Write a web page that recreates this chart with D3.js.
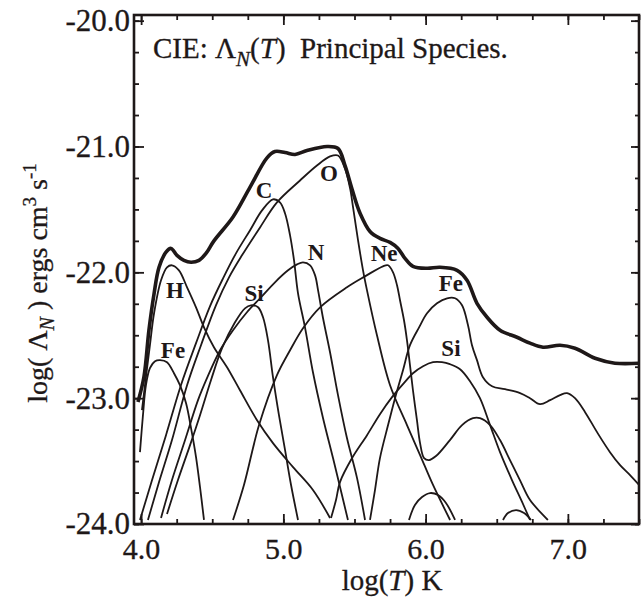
<!DOCTYPE html>
<html><head><meta charset="utf-8">
<script src="https://cdn.jsdelivr.net/npm/d3@7"></script>
<style>body{margin:0;background:#fff}svg{display:block}</style>
</head><body>
<script>
// ---- data: [log T, log Lambda_N] ----
const xTickLabels = [4.0, 5.0, 6.0, 7.0];
const yTickLabels = [-24.0, -23.0, -22.0, -21.0, -20.0];

const total = [[3.978,-23.03],[4.020,-22.83],[4.055,-22.46],[4.091,-22.17],[4.126,-21.96],[4.175,-21.84],[4.210,-21.81],[4.252,-21.865],[4.301,-21.905],[4.351,-21.92],[4.407,-21.905],[4.456,-21.85],[4.512,-21.75],[4.646,-21.56],[4.765,-21.325],[4.885,-21.09],[4.941,-21.04],[5.012,-21.048],[5.082,-21.063],[5.166,-21.032],[5.307,-21.0],[5.384,-21.016],[5.433,-21.15],[5.483,-21.34],[5.539,-21.53],[5.609,-21.675],[5.679,-21.73],[5.750,-21.762],[5.806,-21.81],[5.855,-21.889],[5.911,-21.952],[6.010,-21.968],[6.101,-21.96],[6.221,-21.984],[6.291,-22.063],[6.361,-22.246],[6.432,-22.357],[6.523,-22.46],[6.642,-22.516],[6.734,-22.563],[6.825,-22.595],[6.945,-22.579],[7.050,-22.603],[7.191,-22.683],[7.331,-22.722],[7.507,-22.722]];
const hydrogen = [[4.006,-23.095],[4.034,-22.833],[4.062,-22.579],[4.091,-22.325],[4.140,-22.063],[4.182,-21.96],[4.217,-21.944],[4.266,-21.984],[4.323,-22.119],[4.386,-22.278],[4.442,-22.437],[4.512,-22.595],[4.604,-22.754],[4.695,-22.937],[4.815,-23.175],[4.927,-23.357],[5.068,-23.548],[5.208,-23.73],[5.328,-23.952]];
const ironLow = [[3.992,-23.429],[4.013,-23.135],[4.034,-22.897],[4.062,-22.762],[4.098,-22.706],[4.133,-22.698],[4.182,-22.714],[4.231,-22.802],[4.273,-22.897],[4.316,-23.04],[4.351,-23.238],[4.386,-23.468],[4.414,-23.706],[4.442,-23.968]];
const carbon = [[3.992,-23.968],[4.077,-23.651],[4.175,-23.294],[4.280,-22.897],[4.386,-22.563],[4.484,-22.27],[4.576,-22.048],[4.667,-21.849],[4.765,-21.667],[4.850,-21.508],[4.927,-21.42],[4.976,-21.444],[5.012,-21.532],[5.047,-21.706],[5.075,-21.905],[5.103,-22.167],[5.152,-22.437],[5.208,-22.794],[5.279,-23.159],[5.349,-23.476],[5.454,-23.968]];
const oxygen = [[4.048,-23.968],[4.126,-23.667],[4.217,-23.333],[4.323,-22.897],[4.421,-22.579],[4.526,-22.262],[4.618,-22.04],[4.709,-21.865],[4.836,-21.643],[4.955,-21.444],[5.117,-21.27],[5.236,-21.151],[5.328,-21.079],[5.384,-21.071],[5.433,-21.175],[5.469,-21.333],[5.490,-21.484],[5.525,-21.746],[5.560,-21.984],[5.588,-22.143],[5.658,-22.5],[5.750,-22.897],[5.869,-23.214],[5.961,-23.452],[6.052,-23.69],[6.172,-23.968]];
const nitrogen = [[4.140,-23.952],[4.217,-23.651],[4.309,-23.333],[4.400,-23.016],[4.463,-22.841],[4.555,-22.619],[4.646,-22.46],[4.744,-22.317],[4.843,-22.198],[4.941,-22.079],[5.033,-21.984],[5.096,-21.937],[5.138,-21.921],[5.188,-21.944],[5.223,-22.024],[5.244,-22.143],[5.279,-22.365],[5.328,-22.635],[5.384,-22.976],[5.447,-23.317],[5.518,-23.635],[5.574,-23.968]];
const siliconLow = [[4.182,-23.921],[4.259,-23.651],[4.344,-23.373],[4.414,-23.135],[4.491,-22.857],[4.569,-22.603],[4.660,-22.397],[4.730,-22.286],[4.772,-22.262],[4.822,-22.278],[4.857,-22.357],[4.892,-22.54],[4.927,-22.833],[4.969,-23.135],[5.012,-23.413],[5.054,-23.69],[5.103,-23.968]];
const neon = [[4.646,-23.968],[4.723,-23.69],[4.829,-23.214],[4.955,-22.817],[5.047,-22.619],[5.138,-22.444],[5.258,-22.278],[5.447,-22.119],[5.574,-22.032],[5.700,-21.952],[5.736,-21.944],[5.771,-22.0],[5.799,-22.103],[5.820,-22.222],[5.848,-22.381],[5.869,-22.54],[5.890,-22.738],[5.911,-22.937],[5.939,-23.175],[5.961,-23.357],[5.989,-23.476],[6.024,-23.492],[6.073,-23.46],[6.171,-23.333],[6.256,-23.214],[6.333,-23.159],[6.382,-23.159],[6.453,-23.214],[6.523,-23.333],[6.593,-23.492],[6.663,-23.651],[6.734,-23.81],[6.860,-23.968]];
const siliconHigh = [[5.335,-23.952],[5.370,-23.81],[5.398,-23.667],[5.483,-23.476],[5.588,-23.294],[5.679,-23.127],[5.764,-22.992],[5.841,-22.889],[5.911,-22.802],[5.982,-22.746],[6.052,-22.714],[6.115,-22.714],[6.171,-22.73],[6.242,-22.77],[6.312,-22.865],[6.382,-23.0],[6.453,-23.214],[6.523,-23.429],[6.607,-23.651],[6.678,-23.825],[6.734,-23.968]];
const ironHigh = [[5.609,-23.968],[5.644,-23.73],[5.679,-23.476],[5.736,-23.214],[5.785,-23.0],[5.841,-22.778],[5.890,-22.579],[5.954,-22.437],[6.010,-22.325],[6.080,-22.246],[6.151,-22.206],[6.207,-22.206],[6.256,-22.262],[6.298,-22.421],[6.326,-22.579],[6.361,-22.698],[6.403,-22.833],[6.467,-22.905],[6.558,-22.929],[6.664,-22.96],[6.734,-23.0],[6.804,-23.048],[6.875,-23.016],[6.945,-22.976],[6.994,-22.96],[7.050,-23.0],[7.121,-23.111],[7.205,-23.27],[7.296,-23.429],[7.367,-23.532],[7.437,-23.611],[7.514,-23.706]];
const minorA = [[5.883,-23.968],[5.925,-23.849],[5.975,-23.786],[6.031,-23.754],[6.087,-23.77],[6.143,-23.833],[6.207,-23.968]];
const minorB = [[6.544,-23.968],[6.579,-23.913],[6.636,-23.889],[6.692,-23.913],[6.741,-23.968]];

const speciesNames = ["H","Fe","Si","C","N","O","Ne","Fe","Si"];
const labelT = [4.238, 4.224, 4.794, 4.864, 5.229, 5.321, 5.708, 6.178, 6.178];
const labelL = [-22.143, -22.619, -22.167, -21.349, -21.841, -21.214, -21.849, -22.087, -22.603];

// ---- drawing ----
const W = 641, H = 599;
const ink = "#1e1818";
const serif = "'Liberation Serif','Times New Roman',serif";
const x = d3.scaleLinear().domain([3.95, 7.5]).range([134, 639]);
const y = d3.scaleLinear().domain([-24, -19.955]).range([524, 15]);

const svg = d3.select("body").append("svg").attr("width", W).attr("height", H)
  .style("font-family", serif);

svg.append("defs").append("clipPath").attr("id","clip")
  .append("rect").attr("x",134).attr("y",15).attr("width",505).attr("height",509);

const minorX = d3.range(4, 7.5001, 0.25);
const minorY = d3.range(-24, -19.999, 0.25);

function ticks(g, axis, vals, size) {
  g.call(axis.tickValues(vals).tickSize(size).tickFormat(""));
  g.select(".domain").remove();
  g.selectAll("line").attr("stroke", ink).attr("stroke-width", 1.8);
}
ticks(svg.append("g").attr("transform","translate(0,524)"), d3.axisBottom(x), minorX, -5);
ticks(svg.append("g").attr("transform","translate(0,524)"), d3.axisBottom(x), xTickLabels, -10);
ticks(svg.append("g").attr("transform","translate(0,15)"), d3.axisTop(x), minorX, -5);
ticks(svg.append("g").attr("transform","translate(0,15)"), d3.axisTop(x), xTickLabels, -10);
ticks(svg.append("g").attr("transform","translate(134,0)"), d3.axisLeft(y), minorY, -5);
ticks(svg.append("g").attr("transform","translate(134,0)"), d3.axisLeft(y), yTickLabels, -10);
ticks(svg.append("g").attr("transform","translate(639,0)"), d3.axisRight(y), minorY, -4);
ticks(svg.append("g").attr("transform","translate(639,0)"), d3.axisRight(y), yTickLabels, -8);

svg.append("rect").attr("x",134).attr("y",15).attr("width",505).attr("height",509)
  .attr("fill","none").attr("stroke",ink).attr("stroke-width",2.6);

function heavy(sel) { return sel.attr("stroke", ink).attr("stroke-width", 0.3).attr("fill", ink); }

// tick labels
const xl = svg.append("g").attr("transform","translate(0,524)")
  .call(d3.axisBottom(x).tickValues(xTickLabels).tickSize(0).tickPadding(14).tickFormat(d => d.toFixed(1)));
xl.select(".domain").remove();
heavy(xl.selectAll("text").attr("font-family", serif).attr("font-size", 30));

const yl = svg.append("g").attr("transform","translate(134,0)")
  .call(d3.axisLeft(y).tickValues(yTickLabels).tickSize(0).tickPadding(4).tickFormat(d => d.toFixed(1)));
yl.select(".domain").remove();
heavy(yl.selectAll("text").attr("font-family", serif).attr("font-size", 31));

// curves
const line = d3.line().x(d => x(d[0])).y(d => y(d[1])).curve(d3.curveCatmullRom.alpha(0.5));
const plot = svg.append("g").attr("clip-path","url(#clip)");
[hydrogen, ironLow, carbon, oxygen, nitrogen, siliconLow, neon, siliconHigh, ironHigh, minorA, minorB]
  .forEach(s => plot.append("path").attr("d", line(s)).attr("fill","none")
    .attr("stroke", ink).attr("stroke-width", 1.8).attr("stroke-linejoin","round"));
plot.append("path").attr("d", line(total)).attr("fill","none")
  .attr("stroke", ink).attr("stroke-width", 3.6).attr("stroke-linejoin","round");

// species labels
speciesNames.forEach((n, i) => {
  svg.append("text").attr("x", x(labelT[i])).attr("y", y(labelL[i]))
    .attr("text-anchor","middle").attr("dominant-baseline","central")
    .attr("font-size", 23).attr("font-weight","bold").attr("fill", ink).text(n);
});

// title
const title = heavy(svg.append("text").attr("x", 153).attr("y", 58).attr("font-size", 29));
title.append("tspan").text("CIE: \u039B");
title.append("tspan").attr("font-style","italic").attr("font-size", 21).attr("dy", 8).text("N");
title.append("tspan").attr("dy", -8).text("(");
title.append("tspan").attr("font-style","italic").text("T");
title.append("tspan").text(")\u00A0\u00A0Principal Species.");

// x axis title
const xt = heavy(svg.append("text").attr("x", 392).attr("y", 590).attr("text-anchor","middle")
  .attr("font-size", 29));
xt.append("tspan").text("log(");
xt.append("tspan").attr("font-style","italic").text("T");
xt.append("tspan").text(") K");

// y axis title
const yt = heavy(svg.append("text").attr("transform","translate(47,283) rotate(-90)")
  .attr("text-anchor","middle").attr("font-size", 28));
yt.append("tspan").text("log( \u039B");
yt.append("tspan").attr("font-style","italic").attr("font-size", 20).attr("dy", 7).text("N");
yt.append("tspan").attr("dy", -7).text(" ) ergs cm");
yt.append("tspan").attr("font-size", 19).attr("dy", -11).text("3");
yt.append("tspan").attr("dy", 11).text(" s");
yt.append("tspan").attr("font-size", 19).attr("dy", -11).text("-1");
</script>
</body></html>
